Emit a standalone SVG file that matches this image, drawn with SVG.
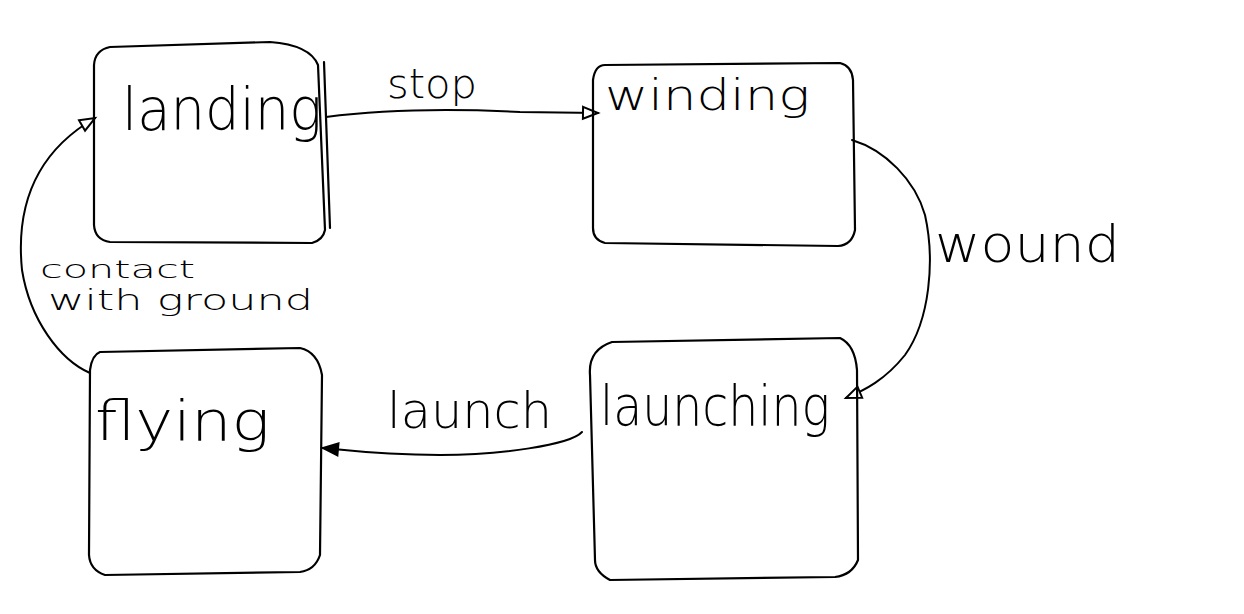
<svg xmlns="http://www.w3.org/2000/svg" width="1244" height="614" viewBox="0 0 1244 614">
<style>
.box{fill:none;stroke:#000;stroke-width:2.2;stroke-linecap:round;stroke-linejoin:round}
.edge{fill:none;stroke:#000;stroke-width:2;stroke-linecap:round}
.t{font-family:"DejaVu Sans","Liberation Sans",sans-serif;font-weight:200;fill:#000}
</style>
<defs>
<marker id="open" markerWidth="20" markerHeight="16" refX="17" refY="8" orient="auto" markerUnits="userSpaceOnUse">
<path d="M2,2 L17,8 L2,14 Z" fill="#fff" stroke="#000" stroke-width="2"/>
</marker>
<marker id="filled" markerWidth="20" markerHeight="16" refX="17" refY="8" orient="auto" markerUnits="userSpaceOnUse">
<path d="M2,2 L17,8 L2,14 Z" fill="#000" stroke="#000" stroke-width="2"/>
</marker>
</defs>
<rect width="1244" height="614" fill="#fff"/>
<g id="connectors">
<path class="edge" d="M326,117 C380,110 440,108 520,112 L598,113" marker-end="url(#open)"/>
<path class="edge" d="M852,140 C885,150 915,180 925,215 C935,260 930,320 905,355 C885,380 865,390 846,398" marker-end="url(#open)"/>
<path class="edge" d="M582,432 C570,445 500,455 440,455 C380,455 345,450 323,448" marker-end="url(#filled)"/>
<path class="edge" d="M90,373 C60,360 30,320 22,270 C15,200 40,150 95,118" marker-end="url(#open)"/>
<text class="t" x="387" y="98" font-size="40" textLength="90" lengthAdjust="spacingAndGlyphs">stop</text>
<text class="t" x="935" y="262" font-size="52" textLength="185" lengthAdjust="spacingAndGlyphs">wound</text>
<text class="t" x="387" y="428" font-size="50" textLength="165" lengthAdjust="spacingAndGlyphs">launch</text>
<text class="t" x="40" y="278" font-size="25" textLength="155" lengthAdjust="spacingAndGlyphs">contact</text>
<text class="t" x="48" y="310" font-size="28" textLength="265" lengthAdjust="spacingAndGlyphs">with ground</text>
</g>
<g id="landing">
<path class="box" d="M110,47 L270,42 Q310,45 318,65 L325,230 Q323,240 312,243 L110,242 Q95,240 94,225 L94,65 Q95,50 110,47 Z"/>
<path class="box" d="M324,62 L330,228" stroke-width="1.6"/>
<text class="t" x="122" y="130" font-size="58" textLength="200" lengthAdjust="spacingAndGlyphs">landing</text>
</g>
<g id="winding">
<path class="box" d="M605,65 L840,63 Q852,66 853,80 L855,230 Q852,245 838,246 L605,243 Q593,240 593,228 L593,80 Q595,65 605,65 Z"/>
<text class="t" x="605" y="110" font-size="42" textLength="205" lengthAdjust="spacingAndGlyphs">winding</text>
</g>
<g id="flying">
<path class="box" d="M100,352 L300,348 Q318,352 322,375 L320,555 Q315,570 300,572 L105,575 Q90,570 89,555 L90,370 Q92,355 100,352 Z"/>
<text class="t" x="95" y="440" font-size="55" textLength="175" lengthAdjust="spacingAndGlyphs">flying</text>
</g>
<g id="launching">
<path class="box" d="M612,342 L840,338 Q855,345 857,370 L858,560 Q852,575 835,577 L610,580 Q595,572 595,560 L590,375 Q588,350 612,342 Z"/>
<text class="t" x="600" y="425" font-size="55" textLength="230" lengthAdjust="spacingAndGlyphs">launching</text>
</g>
</svg>
